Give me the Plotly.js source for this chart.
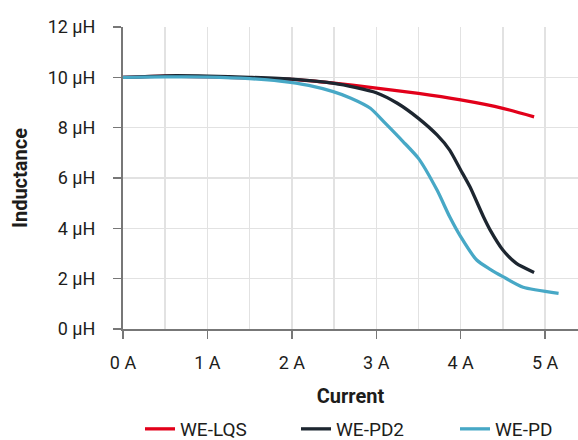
<!DOCTYPE html>
<html><head><meta charset="utf-8">
<script src="https://cdn.plot.ly/plotly-3.0.1.min.js"></script>
<style>html,body{margin:0;padding:0;background:#fff}#chart{width:578px;height:440px}</style>
</head><body><div id="chart"></div>
<script>
const lqsCurrent = [0, 0.5, 1, 1.5, 2, 2.5, 2.93, 3.5, 4, 4.5, 4.87];
const lqsInductance = [10.0, 10.05, 10.02, 9.97, 9.92, 9.77, 9.60, 9.36, 9.10, 8.77, 8.43];

const pd2Current = [0, 0.5, 1, 1.5, 2, 2.5, 2.75, 3.0, 3.25, 3.5, 3.72, 3.87, 4.0, 4.11, 4.27, 4.35, 4.5, 4.66, 4.87];
const pd2Inductance = [10.0, 10.06, 10.05, 10.0, 9.93, 9.76, 9.6, 9.39, 8.97, 8.37, 7.71, 7.11, 6.32, 5.65, 4.46, 3.93, 3.14, 2.61, 2.25];

const pdCurrent = [0, 0.5, 1, 1.5, 1.86, 2.2, 2.49, 2.7, 2.93, 3.1, 3.32, 3.5, 3.72, 3.87, 4.0, 4.19, 4.35, 4.5, 4.74, 5.16];
const pdInductance = [10.0, 10.02, 10.01, 9.95, 9.85, 9.68, 9.43, 9.17, 8.77, 8.2, 7.44, 6.78, 5.52, 4.46, 3.67, 2.74, 2.37, 2.08, 1.66, 1.42];

const seriesNames = ['WE-LQS', 'WE-PD2', 'WE-PD'];
const seriesColors = ['#e2001a', '#1d2630', '#47a8c6'];
const legendIds = ['legend', 'legend2', 'legend3'];

const fontFam = 'Roboto, "Open Sans", sans-serif';
const traces = [
  [lqsCurrent, lqsInductance],
  [pd2Current, pd2Inductance],
  [pdCurrent, pdInductance]
].map((d, i) => ({
  x: d[0], y: d[1], name: seriesNames[i], type: 'scatter', mode: 'lines',
  legend: legendIds[i],
  line: {color: seriesColors[i], width: 3.3, shape: 'spline', smoothing: 0.6}
}));

function legendAt(xpx) {
  return {orientation: 'h', xref: 'container', yref: 'container',
    x: xpx / 578, xanchor: 'left', y: 1 - 429 / 440, yanchor: 'middle',
    font: {size: 19, family: fontFam, color: '#1d1d1b'}, itemwidth: 30,
    bgcolor: 'rgba(0,0,0,0)', borderwidth: 0};
}

const layout = {
  width: 578, height: 440,
  margin: {l: 123, r: 0, t: 27, b: 111},
  paper_bgcolor: '#fff', plot_bgcolor: '#fff',
  font: {family: fontFam, color: '#1d1d1b', size: 18},
  showlegend: true,
  legend: legendAt(140),
  legend2: legendAt(296),
  legend3: legendAt(455),
  xaxis: {
    range: [0, 5.39], dtick: 1, tick0: 0, ticksuffix: ' A',
    showgrid: true, gridcolor: '#e2e2e2', gridwidth: 1.5,
    minor: {dtick: 0.5, showgrid: true, gridcolor: '#e2e2e2', gridwidth: 1.5},
    showline: true, linecolor: '#777777', linewidth: 2,
    ticks: 'outside', ticklen: 8, tickcolor: '#777777', tickwidth: 1.5,
    ticklabelstandoff: 8,
    zeroline: false, tickfont: {size: 18},
    automargin: false,
    title: {text: '<b>Current</b>', font: {size: 20}, standoff: 17}
  },
  yaxis: {
    range: [0, 12], dtick: 2, tick0: 0, ticksuffix: ' µH',
    showgrid: true, gridcolor: '#e2e2e2', gridwidth: 1.5,
    showline: true, linecolor: '#777777', linewidth: 2,
    ticks: 'outside', ticklen: 8, tickcolor: '#777777', tickwidth: 1.5,
    ticklabelstandoff: 14,
    zeroline: false, tickfont: {size: 18},
    automargin: false,
    title: {text: '<b>Inductance</b>', font: {size: 20}, standoff: 15}
  }
};
Plotly.newPlot('chart', traces, layout, {displayModeBar: false, staticPlot: true});
</script></body></html>
